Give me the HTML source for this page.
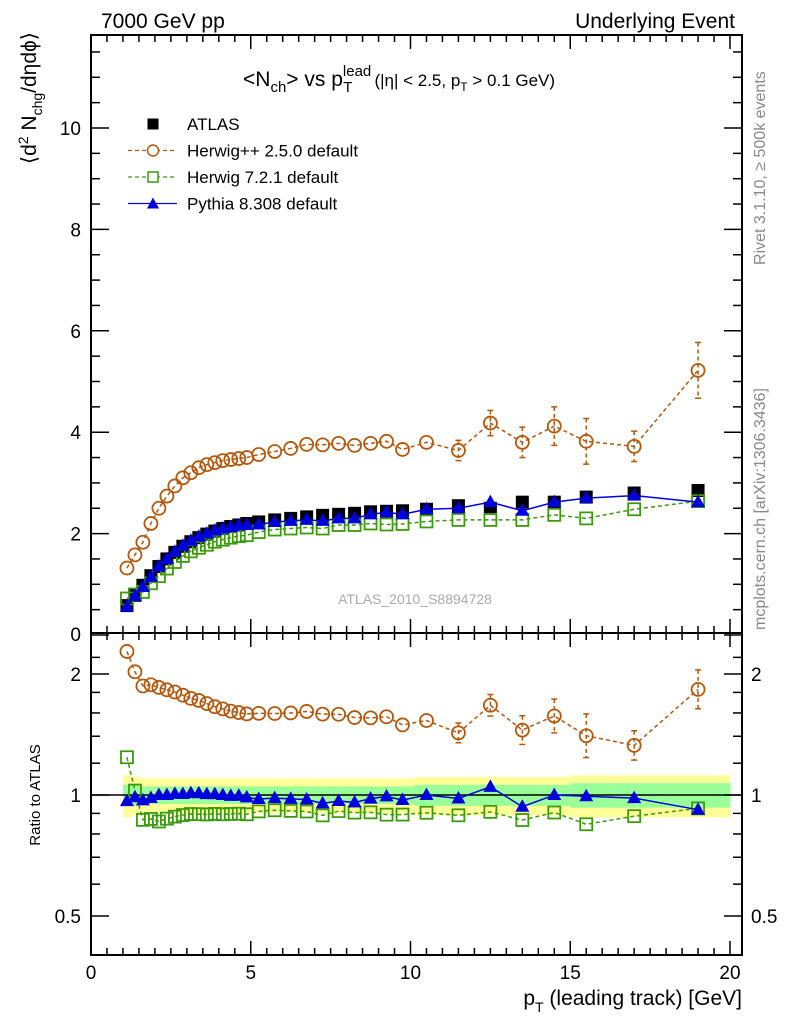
<!DOCTYPE html>
<html><head><meta charset="utf-8"><style>
body{margin:0;background:#fff;}
svg text{font-family:"Liberation Sans",sans-serif;}
</style></head><body>
<svg id="chart" width="786" height="1024" xmlns="http://www.w3.org/2000/svg">
<text x="101" y="28" font-size="21">7000 GeV pp</text>
<text x="735" y="28" font-size="21" text-anchor="end">Underlying Event</text>
<text x="243" y="86" font-size="21">&lt;N<tspan font-size="15" dy="6">ch</tspan><tspan dy="-6">&gt; vs p</tspan><tspan font-size="15" dy="-10">lead</tspan><tspan font-size="15" dx="-28" dy="16">T</tspan><tspan font-size="17" dx="22" dy="-6">(|η| &lt; 2.5, p</tspan><tspan font-size="12" dy="5">T</tspan><tspan font-size="17" dy="-5"> &gt; 0.1 GeV)</tspan></text>
<text transform="translate(36,32) rotate(-90)" font-size="21" text-anchor="end">⟨d<tspan font-size="14" dy="-8">2</tspan><tspan dy="8"> N</tspan><tspan font-size="14" dy="6">chg</tspan><tspan dy="-6">/dηdϕ⟩</tspan></text>
<text transform="translate(40,795) rotate(-90)" font-size="15" text-anchor="middle">Ratio to ATLAS</text>
<text x="742" y="1005" font-size="21" text-anchor="end">p<tspan font-size="14" dy="7">T</tspan><tspan dy="-7"> (leading track) [GeV]</tspan></text>
<text transform="translate(765,265) rotate(-90)" font-size="16" fill="#888">Rivet 3.1.10, ≥ 500k events</text>
<text transform="translate(765,630) rotate(-90)" font-size="16" fill="#888">mcplots.cern.ch [arXiv:1306.3436]</text>
<text x="415" y="604" font-size="14" fill="#aaa" text-anchor="middle">ATLAS_2010_S8894728</text>
<g id="legend"></g>
<g id="plot"></g>
</svg>
<script>
const xs=[1.125,1.375,1.625,1.875,2.125,2.375,2.625,2.875,3.125,3.375,3.625,3.875,4.125,4.375,4.625,4.875,5.25,5.75,6.25,6.75,7.25,7.75,8.25,8.75,9.25,9.75,10.5,11.5,12.5,13.5,14.5,15.5,17,19];
const atlas=[0.58,0.78,0.98,1.17,1.35,1.5,1.63,1.75,1.84,1.92,1.99,2.05,2.1,2.14,2.17,2.2,2.23,2.27,2.3,2.33,2.36,2.38,2.4,2.43,2.44,2.45,2.48,2.55,2.5,2.62,2.62,2.72,2.8,2.85];
const herwigpp=[1.32,1.58,1.83,2.2,2.5,2.74,2.94,3.1,3.2,3.3,3.36,3.4,3.44,3.46,3.48,3.5,3.56,3.62,3.68,3.76,3.75,3.78,3.74,3.78,3.82,3.66,3.8,3.64,4.18,3.8,4.12,3.82,3.72,5.22];
const herwigppErr=[0.02,0.02,0.02,0.02,0.02,0.02,0.02,0.02,0.02,0.02,0.02,0.02,0.03,0.03,0.03,0.03,0.03,0.04,0.04,0.05,0.05,0.06,0.07,0.08,0.1,0.1,0.08,0.2,0.25,0.3,0.38,0.45,0.3,0.55];
const herwig7=[0.72,0.8,0.85,1.02,1.16,1.31,1.44,1.56,1.65,1.72,1.78,1.84,1.88,1.92,1.95,1.97,2.03,2.08,2.1,2.12,2.1,2.17,2.17,2.2,2.18,2.19,2.24,2.27,2.27,2.27,2.37,2.3,2.48,2.64];
const pythia=[0.56,0.77,0.95,1.15,1.35,1.5,1.64,1.76,1.86,1.94,2.0,2.06,2.1,2.13,2.16,2.17,2.18,2.23,2.25,2.27,2.25,2.3,2.3,2.38,2.42,2.38,2.48,2.5,2.62,2.45,2.62,2.7,2.75,2.62];
const bandYellow=[0.12,0.11,0.1,0.1,0.1,0.1,0.1,0.1,0.1,0.1,0.1,0.1,0.1,0.1,0.1,0.1,0.1,0.1,0.1,0.1,0.1,0.1,0.1,0.1,0.1,0.1,0.11,0.11,0.11,0.11,0.11,0.12,0.12,0.12];
const bandGreen=[0.06,0.06,0.05,0.05,0.05,0.05,0.05,0.05,0.05,0.05,0.05,0.05,0.05,0.05,0.05,0.05,0.05,0.05,0.05,0.05,0.05,0.05,0.05,0.05,0.05,0.05,0.06,0.06,0.06,0.06,0.06,0.07,0.07,0.07];
const xTicks=[0,5,10,15,20];
const yTicks=[0,2,4,6,8,10];
const rTicks=[0.5,1,2];

const NS="http://www.w3.org/2000/svg";
const plot=document.getElementById('plot');
const L=91,R=742,T=35,MB=633,RB=955;
const X=v=>L+(v-0)*31.95;
const Y=v=>635-50.7*v;
const RY=r=>795-121*Math.log2(r);
function mk(tag,attrs,parent){const e=document.createElementNS(NS,tag);for(const k in attrs)e.setAttribute(k,attrs[k]);(parent||plot).appendChild(e);return e;}
// bands
xs.forEach((x,i)=>{
 const x0=i==0?1:(x+xs[i-1])/2, x1=i==xs.length-1?20:(x+xs[i+1])/2;
 const y=mk('rect',{x:X(x0),y:RY(1+bandYellow[i]),width:X(x1)-X(x0)+0.5,height:RY(1-bandYellow[i])-RY(1+bandYellow[i]),fill:'#ffff99'});
 
 
 const g=mk('rect',{x:X(x0),y:RY(1+bandGreen[i]),width:X(x1)-X(x0)+0.5,height:RY(1-bandGreen[i])-RY(1+bandGreen[i]),fill:'#99ff99'});
 
 
});
mk('line',{x1:L,x2:R,y1:RY(1),y2:RY(1),stroke:'#000','stroke-width':1.5});
mk('rect',{x:L,y:T,width:R-L,height:MB-T,fill:'none',stroke:'#000','stroke-width':2});
mk('rect',{x:L,y:MB,width:R-L,height:RB-MB,fill:'none',stroke:'#000','stroke-width':2});
for(let v=0;v<=20.3;v+=0.5){const maj=v%5==0;const len=maj?14:7;
 [[T,1],[MB,-1],[MB,1],[RB,-1]].forEach(([y0,d])=>mk('line',{x1:X(v),x2:X(v),y1:y0,y2:y0+d*len,stroke:'#000','stroke-width':1.5}));}
xTicks.forEach(v=>{const t=mk('text',{x:X(v),y:979,'font-size':19,'text-anchor':'middle'});t.textContent=v;
 
 });
for(let v=0;v<=11.7;v+=0.5){const maj=v%2==0;const len=maj?18:9;
 mk('line',{x1:L,x2:L+len,y1:Y(v),y2:Y(v),stroke:'#000','stroke-width':1.5});
 mk('line',{x1:R,x2:R-len,y1:Y(v),y2:Y(v),stroke:'#000','stroke-width':1.5});}
yTicks.forEach(v=>{const t=mk('text',{x:81,y:Y(v)+(v==0?6:7),'font-size':19,'text-anchor':'end'});t.textContent=v;
 
 });
[0.4,0.5,0.6,0.7,0.8,0.9,1,1.2,1.4,1.6,1.8,2,2.2].forEach(r=>{const y=RY(r);if(y<MB||y>RB)return;const maj=[0.5,1,2].includes(r);const len=maj?18:9;
 mk('line',{x1:L,x2:L+len,y1:y,y2:y,stroke:'#000','stroke-width':1.5});
 mk('line',{x1:R,x2:R-len,y1:y,y2:y,stroke:'#000','stroke-width':1.5});});
rTicks.forEach(r=>{[[81,'end'],[751,'start']].forEach(([x,a])=>{const t=mk('text',{x:x,y:RY(r)+7,'font-size':19,'text-anchor':a});t.textContent=r;
 
 });});
function series(vals,err,col,dash,marker,yf,name){
 const pts=xs.map((x,i)=>X(x)+','+yf(vals[i],i)).join(' ');
 const pl=mk('polyline',{points:pts,fill:'none',stroke:col,'stroke-width':1.5,'stroke-dasharray':dash});
 
 
 xs.forEach((x,i)=>{const cx=X(x),cy=yf(vals[i],i);
  if(err){const e=yf.err?yf.err(i):err[i]*50.7;if(e>7){mk('line',{x1:cx,x2:cx,y1:cy-e,y2:cy+e,stroke:col,'stroke-width':1.5,'stroke-dasharray':dash});
   mk('line',{x1:cx-3,x2:cx+3,y1:cy-e,y2:cy-e,stroke:col,'stroke-width':1.5});mk('line',{x1:cx-3,x2:cx+3,y1:cy+e,y2:cy+e,stroke:col,'stroke-width':1.5});}}
  let m;
  if(marker=='circle')m=mk('circle',{cx:cx,cy:cy,r:6.5,fill:'none',stroke:col,'stroke-width':1.8});
  else if(marker=='osq')m=mk('rect',{x:cx-6,y:cy-6,width:12,height:12,fill:'none',stroke:col,'stroke-width':1.8});
  else if(marker=='sq')m=mk('rect',{x:cx-6.5,y:cy-6.5,width:13,height:13,fill:col});
  else m=mk('polygon',{points:`${cx},${cy-7.5} ${cx-7},${cy+5} ${cx+7},${cy+5}`,fill:col});
  
  
 });
}
const my=()=>(v,i)=>Y(v);
const ry=()=>(v,i)=>RY(v/atlas[i]);
const dataSeries=[[herwigpp,herwigppErr,'#b5570d','4,3','circle','herwigpp'],[herwig7,null,'#3c9a0d','4,3','osq','herwig7'],[pythia,null,'#0000dd','','tri','pythia']];
series(atlas,null,'#000','0,1000','sq',my(),'atlas');
dataSeries.forEach(s=>series(s[0],s[1],s[2],s[3],s[4],my(),s[5]));
dataSeries.forEach(s=>{const f=ry();if(s[1]){f.err=i=>{const r=s[0][i]/atlas[i];return RY(r-s[1][i]/atlas[i])-RY(r);};}series(s[0],s[1],s[2],s[3],s[4],f,s[5]+'-ratio');});
const lg=document.getElementById('legend');
const items=[['ATLAS','#000','','sq'],['Herwig++ 2.5.0 default','#b5570d','4,3','circle'],['Herwig 7.2.1 default','#3c9a0d','4,3','osq'],['Pythia 8.308 default','#0000dd','','tri']];
items.forEach((it,k)=>{const y=124+26.5*k;const cx=153;
 if(k>0)mk('line',{x1:128,x2:177,y1:y,y2:y,stroke:it[1],'stroke-width':1.3,'stroke-dasharray':it[2]},lg);
 if(it[3]=='sq')mk('rect',{x:cx-5.5,y:y-5.5,width:11,height:11,fill:'#000'},lg);
 else if(it[3]=='circle')mk('circle',{cx:cx,cy:y,r:5.5,fill:'#fff',stroke:it[1],'stroke-width':1.5},lg);
 else if(it[3]=='osq')mk('rect',{x:cx-5,y:y-5,width:10,height:10,fill:'#fff',stroke:it[1],'stroke-width':1.5},lg);
 else mk('polygon',{points:`${cx},${y-6} ${cx-6},${y+5} ${cx+6},${y+5}`,fill:it[1]},lg);
 const t=mk('text',{x:187,y:y+6,'font-size':17},lg);t.textContent=it[0];
 
 
});
</script>
</body></html>
